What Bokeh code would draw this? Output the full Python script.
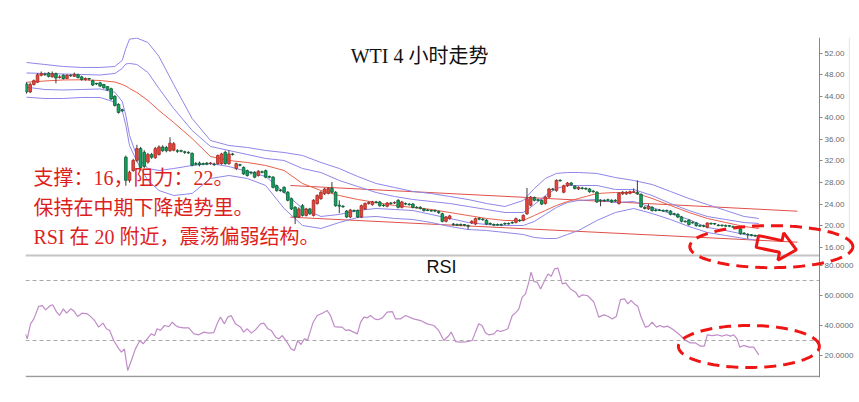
import numpy as np
from bokeh.plotting import figure
from bokeh.models import (ColumnDataSource, Range1d, FixedTicker, CustomJSTickFormatter,
                          Label, PolyAnnotation)
from bokeh.embed import file_html
from bokeh.resources import INLINE

# ---------------- data ----------------
open_ = [46.3, 44.8, 46.2, 46.6, 47.9, 48.1, 48.3, 47.6, 48.2, 47.5,
         47.9, 47.3, 47.9, 47.7, 48.0, 47.6, 47.1, 47.3, 46.9, 46.4,
         46.5, 46.2, 45.8, 45.4, 44.0, 42.5, 41.5, 32.7, 28.4, 30.2,
         32.1, 34.3, 33.6, 31.8, 33.2, 32.6, 33.2, 34.6, 34.5, 33.9,
         34.0, 33.9, 33.9, 33.7, 33.6, 33.4, 31.5, 31.6, 31.5, 31.6,
         31.5, 31.4, 31.5, 31.5, 33.6, 31.5, 33.3, 30.6, 31.3, 30.8,
         30.2, 29.9, 29.9, 29.3, 30.0, 30.2, 29.1, 29.0, 27.4, 26.6,
         27.1, 26.2, 25.0, 23.4, 21.6, 23.7, 21.9, 23.1, 21.9, 24.1,
         25.0, 25.9, 26.0, 26.9, 26.2, 23.8, 23.6, 22.7, 21.6, 22.8,
         22.8, 21.6, 23.1, 24.1, 23.9, 24.4, 24.4, 23.8, 23.6, 24.2,
         24.2, 24.7, 23.4, 24.1, 24.0, 24.0, 23.4, 23.4, 23.1, 22.9,
         22.8, 22.8, 22.6, 22.2, 20.8, 21.3, 20.3, 20.2, 20.2, 20.2,
         20.0, 20.5, 20.3, 21.3, 21.2, 21.0, 20.4, 20.2, 20.2, 20.2,
         20.4, 20.4, 20.6, 20.6, 21.0, 21.0, 22.2, 23.8, 25.2, 24.8,
         24.7, 24.1, 25.3, 26.8, 26.5, 28.4, 26.2, 27.4, 27.9, 27.3,
         26.8, 27.0, 26.9, 26.8, 26.4, 26.2, 24.7, 24.7, 24.8, 24.7,
         24.7, 24.1, 25.9, 25.9, 26.0, 26.2, 26.2, 25.8, 23.4, 23.1,
         23.4, 22.9, 22.9, 22.8, 22.8, 22.7, 22.2, 22.1, 21.6, 20.8,
         21.0, 20.6, 20.5, 20.0, 20.0, 19.7, 20.4, 20.4, 20.1, 20.1,
         20.0, 20.0, 19.8, 19.8, 19.4, 18.6, 18.4, 18.3, 18.2, 18.15]

high = [46.6, 46.5, 47.1, 48.3, 48.6, 48.4, 48.5, 48.6, 48.4, 47.9,
        48.1, 48.1, 48.1, 48.4, 48.2, 47.8, 47.5, 47.4, 47.1, 46.5,
        46.7, 46.3, 45.9, 45.6, 44.2, 42.7, 41.7, 33.0, 30.2, 32.4,
        35.0, 34.6, 34.0, 33.5, 33.5, 34.6, 34.9, 34.9, 34.8, 36.4,
        35.5, 34.2, 34.1, 33.9, 33.8, 33.6, 31.8, 31.9, 31.7, 31.8,
        31.8, 31.7, 33.2, 33.5, 33.9, 34.0, 33.5, 31.7, 31.5, 31.0,
        30.4, 30.1, 30.1, 30.3, 30.2, 30.4, 29.3, 29.2, 27.6, 26.8,
        27.3, 26.4, 25.2, 23.6, 23.4, 24.0, 23.3, 23.3, 24.9, 25.8,
        26.4, 27.0, 27.1, 28.1, 26.4, 24.7, 23.8, 22.9, 23.1, 23.0,
        23.0, 23.9, 24.3, 24.5, 24.6, 24.6, 24.6, 24.0, 24.4, 24.4,
        24.5, 24.9, 24.6, 24.3, 24.2, 24.2, 23.6, 23.6, 23.3, 23.1,
        23.0, 23.0, 22.8, 22.4, 21.8, 22.0, 20.5, 20.4, 20.4, 20.3,
        20.2, 21.0, 21.5, 21.6, 21.4, 21.2, 20.6, 20.4, 20.4, 20.4,
        20.6, 20.6, 20.8, 21.5, 21.2, 22.1, 27.0, 25.5, 25.4, 25.0,
        24.9, 25.5, 27.0, 27.0, 28.6, 28.6, 27.6, 28.1, 28.1, 27.5,
        27.3, 27.2, 27.1, 27.0, 26.6, 26.4, 24.9, 24.9, 25.0, 24.9,
        24.9, 26.2, 26.4, 26.4, 26.5, 26.9, 28.4, 26.0, 23.6, 24.0,
        23.6, 23.1, 23.1, 23.0, 23.0, 22.9, 22.4, 22.3, 21.8, 21.0,
        21.2, 20.8, 20.7, 20.2, 20.2, 20.6, 20.6, 20.5, 20.3, 20.2,
        20.2, 20.1, 20.0, 19.9, 19.6, 18.8, 18.6, 18.4, 18.3, 18.3]

low = [44.5, 44.6, 46.0, 46.5, 47.7, 47.8, 47.5, 47.5, 46.4, 47.3,
       47.1, 47.2, 47.6, 47.6, 47.3, 46.9, 46.9, 46.9, 45.9, 46.1,
       45.7, 45.4, 45.0, 43.3, 42.1, 40.8, 41.1, 27.4, 28.0, 30.0,
       31.8, 30.2, 30.7, 31.5, 32.4, 32.4, 33.0, 33.7, 33.6, 33.7,
       33.8, 33.5, 33.6, 33.3, 33.3, 31.0, 31.2, 31.0, 31.2, 31.2,
       31.3, 31.1, 31.3, 31.3, 31.3, 31.3, 33.0, 30.3, 31.0, 29.4,
       29.1, 29.5, 28.8, 29.1, 29.7, 28.8, 28.8, 26.9, 26.3, 26.3,
       26.0, 24.5, 22.9, 20.3, 21.4, 21.7, 21.7, 22.0, 21.7, 23.9,
       24.8, 25.7, 25.8, 26.0, 23.5, 22.3, 23.3, 21.4, 21.4, 22.5,
       21.4, 21.4, 22.9, 23.9, 23.7, 24.1, 23.5, 23.5, 23.4, 23.9,
       24.0, 23.2, 23.2, 23.8, 23.7, 23.2, 23.2, 23.0, 22.6, 22.7,
       22.6, 22.5, 22.2, 20.6, 20.6, 21.1, 20.0, 20.0, 19.9, 19.9,
       19.3, 20.3, 20.1, 21.0, 20.9, 20.1, 20.1, 19.9, 20.0, 19.9,
       20.1, 20.2, 20.3, 20.4, 20.7, 20.8, 22.0, 23.6, 24.5, 24.5,
       23.8, 23.9, 25.1, 26.5, 26.3, 28.2, 26.0, 27.2, 27.4, 26.7,
       26.6, 26.7, 26.6, 26.1, 26.1, 24.2, 23.6, 24.4, 24.5, 24.2,
       24.4, 23.9, 25.7, 25.7, 25.8, 26.1, 25.7, 23.3, 23.0, 22.9,
       22.6, 22.6, 22.7, 22.6, 22.5, 21.9, 21.9, 21.4, 20.6, 20.6,
       20.0, 20.4, 19.8, 19.8, 19.7, 19.5, 20.2, 20.1, 19.9, 19.8,
       19.8, 19.7, 19.6, 19.5, 18.3, 18.4, 17.6, 18.0, 17.9, 17.9]

close = [44.8, 46.2, 46.9, 48.0, 48.2, 48.0, 47.7, 48.2, 47.4, 47.6,
         47.3, 47.9, 47.8, 48.1, 47.5, 47.1, 47.3, 47.2, 46.1, 46.3,
         45.9, 45.6, 45.2, 43.5, 42.3, 41.0, 41.3, 28.4, 29.9, 32.1,
         34.3, 30.8, 31.0, 33.2, 32.7, 34.3, 34.6, 33.9, 33.9, 35.3,
         35.2, 33.8, 33.8, 33.6, 33.5, 31.2, 31.4, 31.3, 31.4, 31.4,
         31.6, 31.3, 33.0, 33.3, 31.5, 33.3, 33.2, 31.5, 31.2, 29.6,
         29.3, 29.8, 29.0, 30.1, 29.9, 29.0, 29.0, 27.1, 26.5, 26.5,
         26.2, 24.7, 23.1, 21.6, 23.1, 21.9, 23.1, 22.2, 24.7, 25.6,
         26.2, 26.8, 26.9, 26.2, 23.7, 23.6, 23.5, 21.6, 22.9, 22.7,
         21.6, 23.7, 24.1, 24.3, 24.4, 24.3, 23.7, 23.7, 24.2, 24.1,
         24.3, 23.4, 24.4, 24.0, 23.9, 23.4, 23.3, 23.2, 22.8, 22.8,
         22.7, 22.7, 22.4, 20.8, 21.6, 21.8, 20.2, 20.1, 20.1, 20.1,
         19.9, 20.8, 21.3, 21.2, 21.1, 20.3, 20.3, 20.1, 20.1, 20.1,
         20.3, 20.3, 20.5, 21.3, 20.9, 21.9, 25.0, 25.3, 24.7, 24.7,
         24.0, 25.3, 26.8, 26.7, 28.4, 28.3, 27.4, 27.9, 27.6, 26.9,
         27.1, 26.9, 26.8, 26.3, 26.3, 24.4, 24.6, 24.6, 24.7, 24.4,
         24.6, 26.0, 26.2, 26.2, 26.3, 26.3, 25.9, 23.5, 23.2, 23.6,
         22.8, 22.8, 22.8, 22.7, 22.7, 22.1, 22.1, 21.6, 20.8, 20.7,
         20.2, 20.5, 20.0, 19.9, 19.9, 20.5, 20.3, 20.3, 20.0, 20.0,
         19.9, 19.9, 19.7, 19.7, 18.5, 18.5, 18.3, 18.2, 18.1, 18.1]

# Bollinger-style envelope lines, read at these bars
band_x = [0, 5, 10, 15, 20, 24, 26, 27, 28, 30, 33, 36, 40, 45, 50, 55, 60, 65, 70, 75,
          80, 85, 90, 95, 100, 105, 110, 115, 120, 125, 130, 135, 138, 141, 144, 147, 150,
          155, 160, 165, 170, 175, 180, 185, 190, 195, 199]
band_outer_up = [50.27, 49.90, 49.53, 49.35, 49.35, 49.53, 50.64, 52.87, 54.6, 54.8,
                 53.98, 51.39, 46.19, 39.88, 35.80, 34.87, 34.50, 33.94, 33.57, 33.02,
                 31.72, 30.60, 29.12, 27.82, 27.08, 26.34, 25.96, 25.41, 24.85, 24.11,
                 23.55, 24.67, 26.89, 28.75, 29.68, 29.86, 29.86, 29.68, 28.93, 28.38,
                 27.63, 26.34, 25.04, 23.92, 22.81, 21.70, 21.33]
band_inner_up = [48.33, 48.23, 48.14, 48.05, 47.95, 48.23, 49.16, 50.0, 50.09, 49.90,
                 48.42, 45.45, 41.74, 37.66, 34.69, 33.94, 33.20, 32.46, 32.09, 30.60,
                 29.86, 28.38, 27.26, 26.15, 25.41, 24.85, 24.48, 24.11, 23.55, 23.00,
                 22.44, 22.44, 23.92, 25.59, 26.89, 27.45, 27.45, 27.45, 26.71, 26.71,
                 25.59, 24.11, 22.81, 21.70, 21.14, 20.58, 20.40]
ma_line = [46.61, 46.84, 47.03, 47.06, 46.93, 46.65, 46.19, 45.91, 45.45, 44.71,
           43.22, 41.37, 39.14, 36.17, 32.83, 32.09, 31.72, 31.16, 30.23, 27.82,
           26.52, 25.59, 24.85, 24.29, 23.74, 23.37, 23.00, 22.44, 21.88, 21.33,
           20.95, 20.95, 21.88, 22.81, 23.74, 24.48, 25.04, 25.96, 26.15, 26.15,
           25.04, 23.74, 22.44, 21.33, 20.58, 19.84, 19.47]
band_inner_low = [45.69, 45.26, 45.17, 45.26, 45.36, 44.76, 43.04, 40.44, 36.73, 32.83,
                  30.60, 30.23, 30.60, 31.16, 31.53, 30.97, 30.05, 29.12, 26.15, 23.18,
                  21.70, 22.07, 22.81, 23.18, 23.00, 22.81, 22.07, 21.33, 20.58, 20.21,
                  20.03, 20.03, 20.77, 22.07, 23.37, 24.29, 24.67, 24.85, 24.29, 24.48,
                  23.37, 22.25, 21.14, 19.66, 19.10, 18.36, 17.99]
band_outer_low = [43.83, 43.59, 43.59, 43.78, 43.78, 42.91, 41.37, 38.58, 34.87, 31.90,
                  28.38, 26.52, 25.59, 25.96, 28.75, 29.30, 28.75, 27.45, 23.18, 20.03,
                  19.47, 20.58, 21.51, 21.70, 21.33, 21.14, 20.58, 19.84, 19.28, 19.10,
                  18.73, 18.36, 17.80, 17.61, 17.61, 18.36, 19.10, 20.95, 22.44, 23.18,
                  22.25, 21.14, 19.84, 18.73, 18.17, 17.61, 17.24]

# channel (trend) lines
trend_x = [71.7, 209.5]
trend_upper = [27.45, 22.68]
trend_lower = [21.57, 16.93]

# RSI line vertices
rsi_x = [-0.3, 0.2, 1.1, 2.0, 3.3, 4.3, 5.2, 6.5, 7.1, 8.2,
         9.0, 10.0, 10.9, 12.0, 12.9, 13.9, 15.1, 16.5, 17.6, 18.5,
         19.6, 20.8, 21.7, 22.6, 23.7, 25.1, 25.8, 26.6, 27.5, 28.5,
         29.6, 30.8, 31.7, 32.8, 33.9, 34.8, 35.5, 36.4, 37.5, 38.7,
         39.6, 40.5, 41.4, 42.7, 44.1, 45.5, 46.8, 48.2, 49.5, 50.9,
         51.8, 52.7, 53.8, 54.7, 55.6, 56.8, 58.2, 59.0, 60.0, 61.1,
         62.2, 63.6, 64.5, 65.6, 66.5, 67.7, 68.6, 69.5, 70.8, 71.9,
         72.8, 73.7, 74.6, 75.5, 76.4, 77.9, 79.0, 80.4, 81.7, 82.6,
         83.7, 84.9, 85.8, 86.7, 87.6, 88.9, 89.9, 90.8, 91.7, 92.6,
         93.5, 94.6, 95.5, 96.7, 98.0, 99.4, 100.3, 101.6, 103.0, 105.2,
         107.1, 108.9, 110.7, 112.0, 113.4, 114.8, 115.4, 116.6, 117.9, 119.8,
         121.1, 122.0, 122.9, 123.8, 124.7, 125.6, 127.0, 127.9, 128.8, 129.7,
         130.8, 132.0, 132.9, 133.8, 134.7, 135.6, 136.5, 137.1, 137.9, 138.8,
         139.7, 140.8, 141.7, 142.6, 143.5, 144.4, 145.0, 145.6, 146.5, 147.8,
         149.2, 150.1, 151.0, 152.4, 153.3, 154.2, 155.5, 156.9, 158.0, 159.2,
         160.3, 161.4, 162.5, 163.4, 164.3, 165.2, 166.1, 167.0, 168.2, 169.1,
         170.0, 171.2, 172.1, 173.2, 174.1, 175.2, 176.4, 177.7, 179.1, 180.4,
         181.8, 183.2, 184.2, 185.0, 186.3, 187.7, 189.0, 190.2, 191.3, 192.2,
         193.1, 193.8, 194.9, 196.3, 197.6, 199.0]
rsi_v = [34.4, 31.1, 41.1, 44.4, 52.7, 53.3, 50.4, 53.3, 53.8, 48.9,
         46.7, 51.1, 48.2, 51.1, 49.6, 46.0, 48.2, 47.8, 45.6, 43.3,
         38.9, 41.6, 37.8, 36.7, 30.0, 24.4, 22.2, 24.4, 10.0, 16.7,
         24.4, 30.0, 27.8, 31.1, 34.4, 33.3, 37.8, 36.7, 40.0, 39.3,
         42.2, 40.0, 38.9, 38.4, 38.4, 34.4, 33.8, 35.6, 34.9, 35.3,
         41.1, 45.6, 41.1, 45.6, 46.7, 41.1, 38.9, 35.6, 37.8, 34.9,
         37.1, 41.1, 41.6, 37.8, 36.7, 32.2, 31.1, 33.3, 28.9, 24.4,
         23.3, 30.0, 27.3, 31.1, 30.4, 42.2, 46.7, 48.2, 50.0, 46.7,
         39.3, 38.9, 38.9, 36.7, 37.1, 35.6, 34.4, 42.2, 45.6, 45.1,
         46.7, 44.4, 43.8, 45.1, 48.9, 49.3, 44.4, 44.4, 46.7, 44.4,
         43.3, 41.1, 40.0, 36.7, 30.0, 33.3, 35.6, 29.3, 28.9, 29.3,
         30.0, 35.6, 41.1, 40.0, 35.1, 33.8, 34.4, 36.7, 36.0, 36.7,
         37.8, 46.7, 48.4, 51.1, 58.9, 61.1, 68.9, 75.6, 69.3, 68.9,
         64.4, 70.0, 74.4, 72.9, 77.8, 78.2, 73.3, 67.8, 68.4, 64.4,
         62.2, 58.9, 60.4, 60.0, 57.8, 55.6, 45.6, 47.1, 46.2, 44.4,
         46.2, 57.3, 57.8, 54.4, 56.7, 54.4, 52.9, 45.6, 38.9, 39.6,
         42.2, 38.9, 40.0, 38.9, 39.6, 38.2, 36.0, 33.3, 30.0, 28.4,
         28.4, 26.2, 26.2, 33.8, 33.3, 33.8, 32.9, 33.8, 32.9, 33.8,
         31.1, 25.6, 26.7, 25.6, 25.6, 20.4]

price_ticks = [16, 20, 24, 28, 32, 36, 40, 44, 48, 52]
rsi_ticks = [20, 40, 60, 80]
rsi_levels = [70, 30]

title_text = "WTI 4 小时走势"
note_lines = ["支撑：16，阻力：22。", "保持在中期下降趋势里。", "RSI 在 20 附近，震荡偏弱结构。"]

# ---------------- layout constants ----------------
X_LO, X_HI = -0.27, 226.36      # frame spans the whole width to the right edge
AXIS_X = 215.49                 # where the value axis sits
P_LO, P_HI = -8.18, 54.91
R_LO, R_HI = 5.33, 232.0
R_PANE_TOP = 86.67
FRAME_W, FRAME_H = 834, 340
PX_PER_BAR = FRAME_W / (X_HI - X_LO)
PX_PER_PRICE = FRAME_H / (P_HI - P_LO)


def rsi_to_price(r):
    return P_LO + (np.asarray(r, dtype=float) - R_LO) / (R_HI - R_LO) * (P_HI - P_LO)


p = figure(width=859, height=400, output_backend="svg", toolbar_location=None,
           x_range=Range1d(X_LO, X_HI), y_range=Range1d(P_LO, P_HI),
           y_axis_location="right",
           min_border_left=25, min_border_top=37, min_border_right=0, min_border_bottom=23)
p.extra_y_ranges = {"rsi": Range1d(R_LO, R_HI)}
p.xgrid.visible = False
p.ygrid.visible = False
p.xaxis.visible = False
p.outline_line_color = None
p.background_fill_color = "white"
p.border_fill_color = "white"

# value axis (price ticks above, RSI ticks below), fixed inside the frame
split = float(rsi_to_price(R_PANE_TOP))
yax = p.yaxis[0]
yax.fixed_location = AXIS_X
yax.ticker = FixedTicker(ticks=price_ticks + [float(v) for v in rsi_to_price(rsi_ticks)])
yax.formatter = CustomJSTickFormatter(
    args=dict(p0=P_LO, p1=P_HI, r0=R_LO, r1=R_HI, split=split),
    code="""
    if (tick > split) { return tick.toFixed(2); }
    const r = r0 + (tick - p0) / (p1 - p0) * (r1 - r0);
    return Math.round(r).toFixed(4);
    """)
yax.major_label_text_font = "Liberation Sans"
yax.major_label_text_font_size = "8px"
yax.major_label_text_color = "#6a6a6a"
yax.major_label_standoff = 2
yax.major_tick_out = 3
yax.major_tick_in = 0
yax.major_tick_line_color = "#888888"
yax.minor_tick_line_color = None
yax.axis_line_color = "#888888"

# pane rules and RSI levels (stop at the axis)
p.segment(x0=[X_LO], y0=[R_PANE_TOP], x1=[AXIS_X], y1=[R_PANE_TOP], y_range_name="rsi",
          line_color="#c4c4c4", line_width=2)
p.segment(x0=[X_LO], y0=[R_LO + 0.6], x1=[AXIS_X], y1=[R_LO + 0.6], y_range_name="rsi",
          line_color="#9a9a9a", line_width=1.5)
p.segment(x0=[X_LO] * len(rsi_levels), y0=rsi_levels, x1=[AXIS_X] * len(rsi_levels),
          y1=rsi_levels, y_range_name="rsi", line_color="#a8a8a8", line_width=1,
          line_dash="4 3")
# faint window edge line right of the labels
p.segment(x0=[223.6], y0=[split], x1=[223.6], y1=[P_HI], line_color="#e4e4e4", line_width=1)

# trend channel
p.line(trend_x, trend_upper, line_color="#e0504a", line_width=1)
p.line(trend_x, trend_lower, line_color="#e0504a", line_width=1)

# bands
band_color = "#8f86e8"
for ys in (band_outer_up, band_inner_up, band_inner_low, band_outer_low):
    p.line(band_x, ys, line_color=band_color, line_width=1)
p.line(band_x, ma_line, line_color="#e8604c", line_width=1)

# candles
idx = list(range(len(close)))
up = [c >= o for o, c in zip(open_, close)]
src = ColumnDataSource(dict(
    x=idx, high=high, low=low,
    top=[max(o, c) for o, c in zip(open_, close)],
    bottom=[min(o, c) for o, c in zip(open_, close)],
    fill=["#e8453c" if u else "#13a15e" for u in up],
    edge=["#a82a22" if u else "#0b5e36" for u in up],
))
p.segment(x0="x", y0="high", x1="x", y1="low", source=src, line_color="#3a3a3a", line_width=1)
p.vbar(x="x", width=0.72, top="top", bottom="bottom", source=src,
       fill_color="fill", line_color="edge", line_width=0.8)

# RSI line
p.line(rsi_x, rsi_v, y_range_name="rsi", line_color="#c08cc8", line_width=1.2)

# texts
serif_cjk = "Liberation Serif, Noto Sans CJK SC"
p.add_layout(Label(x=106.8, y=51.4, text=title_text, text_font=serif_cjk,
                   text_font_size="20px", text_color="#111111",
                   text_align="center", text_baseline="middle"))
for txt, yy in zip(note_lines, [28.75, 23.18, 17.8]):
    p.add_layout(Label(x=1.9, y=yy, text=txt, text_font=serif_cjk,
                       text_font_size="20px", text_color="#dd1f1f",
                       text_align="left", text_baseline="middle"))
p.add_layout(Label(x=112.8, y=78.7, y_range_name="rsi", text="RSI",
                   text_font="Liberation Sans", text_font_size="18px",
                   text_color="#111111", text_align="center", text_baseline="middle"))

# dashed ellipses and hollow arrow (hand-drawn style annotations), in price units
t = np.linspace(0, 2 * np.pi, 160)


def ellipse(cx, cy, w, h):
    return list(cx + w / 2 * np.cos(t)), list(cy + h / 2 * np.sin(t))


ex, ey = ellipse(202.4, 16.1, 44.3, 7.8)
p.add_layout(PolyAnnotation(xs=ex, ys=ey, line_color="#ee1515", line_alpha=1.0,
                            line_width=3, line_dash="12 7", fill_alpha=0))
rx, ry = ellipse(196.3, 26.0, 38.3, 28.0)
p.add_layout(PolyAnnotation(xs=rx, ys=[float(v) for v in rsi_to_price(ry)],
                            line_color="#ee1515", line_alpha=1.0,
                            line_width=3, line_dash="12 7", fill_alpha=0))

tail_x, tail_y = 198.6, 17.06
ang = np.radians(12)
shape = [(0, -6), (24, -6), (24, -14), (40, 0), (24, 14), (24, 6), (0, 6)]
ax = [tail_x + (u * np.cos(ang) - v * np.sin(ang)) / PX_PER_BAR for u, v in shape]
ay = [tail_y - (u * np.sin(ang) + v * np.cos(ang)) / PX_PER_PRICE for u, v in shape]
p.add_layout(PolyAnnotation(xs=ax, ys=ay, line_color="#ee1515", line_alpha=1.0,
                            line_width=3, fill_alpha=0))

open("out.html", "w").write(file_html(p, INLINE))
